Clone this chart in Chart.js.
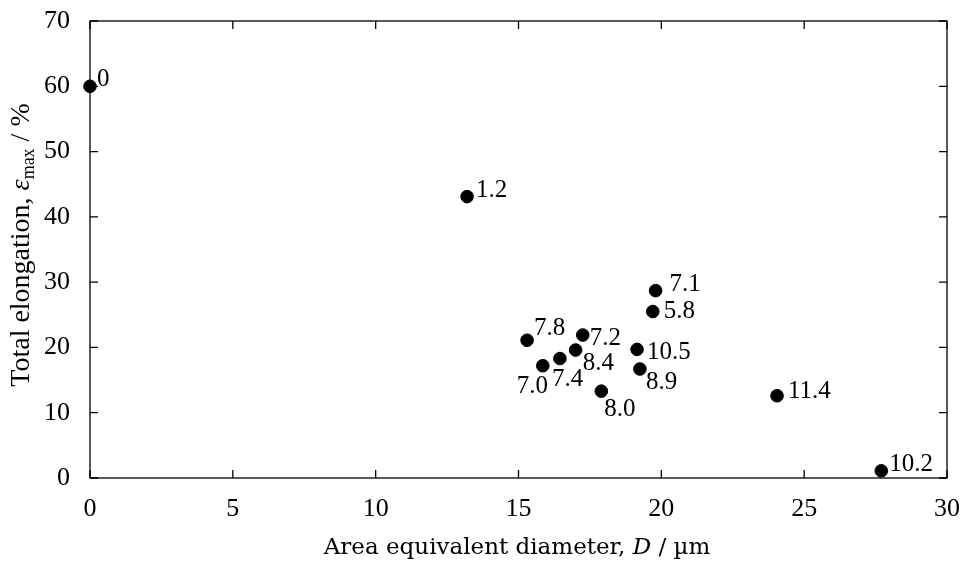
<!DOCTYPE html>
<html>
<head>
<meta charset="utf-8">
<script src="https://cdn.jsdelivr.net/npm/chart.js@4.4.1/dist/chart.umd.min.js"></script>
<style>
html,body{margin:0;padding:0;background:#fff;}
#wrap{width:965px;height:565px;position:relative;}
</style>
</head>
<body>
<div id="wrap"><canvas id="c" width="965" height="565"></canvas></div>
<script>
// ---- data ----
const diameters   = [0, 13.2, 19.8, 19.7, 15.3, 17.25, 17.0, 16.45, 15.85, 19.15, 19.25, 17.9, 24.05, 27.7];
const elongations = [60, 43.1, 28.7, 25.5, 21.1, 21.9, 19.6, 18.3, 17.2, 19.7, 16.7, 13.3, 12.6, 1.1];
const pointLabels = ["0","1.2","7.1","5.8","7.8","7.2","8.4","7.4","7.0","10.5","8.9","8.0","11.4","10.2"];
const xTicks = [0, 5, 10, 15, 20, 25, 30];
const yTicks = [0, 10, 20, 30, 40, 50, 60, 70];

// label placement (text left / middle relative to the point, px)
const labelOffsets = [[7,-7],[9,-6],[14,-6],[11,0],[7,-12],[7,3],[7,13],[-8,21],[-26,21],[10,3],[6,13],[3,18],[11,-4],[8,-6]];

const FONT = "'Liberation Serif','Times New Roman',serif";
const FS = 26;

const points = diameters.map((d, i) => ({x: d, y: elongations[i]}));

const framePlugin = {
  id: 'frame',
  afterDatasetsDraw(chart) {
    const {ctx, chartArea: a, scales: {x, y}} = chart;
    ctx.save();
    ctx.strokeStyle = '#000';
    ctx.lineWidth = 1.3;
    ctx.strokeRect(a.left, a.top, a.right - a.left, a.bottom - a.top);
    const tl = 8;
    ctx.beginPath();
    xTicks.forEach(v => {
      const px = x.getPixelForValue(v);
      ctx.moveTo(px, a.bottom); ctx.lineTo(px, a.bottom - tl);
      ctx.moveTo(px, a.top); ctx.lineTo(px, a.top + tl);
    });
    yTicks.forEach(v => {
      const py = y.getPixelForValue(v);
      ctx.moveTo(a.left, py); ctx.lineTo(a.left + tl, py);
      ctx.moveTo(a.right, py); ctx.lineTo(a.right - tl, py);
    });
    ctx.stroke();

    // point labels
    ctx.fillStyle = '#000';
    ctx.font = '25px ' + FONT;
    ctx.textBaseline = 'middle';
    ctx.textAlign = 'left';
    const meta = chart.getDatasetMeta(0);
    meta.data.forEach((el, i) => {
      const [dx, dy] = labelOffsets[i];
      ctx.fillText(pointLabels[i], el.x + dx, el.y + dy);
    });

    // x axis title
    const XF = "'DejaVu Serif',serif";
    const parts = [
      {t: 'Area equivalent diameter, ', f: '23px ' + XF},
      {t: 'D', f: 'italic 23px ' + XF},
      {t: ' / \u00b5m', f: '23px ' + XF}
    ];
    let total = 0;
    parts.forEach(p => { ctx.font = p.f; p.w = ctx.measureText(p.t).width; total += p.w; });
    let cx = 517 - total / 2;
    ctx.textBaseline = 'middle';
    parts.forEach(p => { ctx.font = p.f; ctx.fillText(p.t, cx, 548); cx += p.w; });

    // y axis title (rotated)
    ctx.translate(22, 245);
    ctx.rotate(-Math.PI / 2);
    const yp = [
      {t: 'Total elongation, ', f: '28px ' + FONT, dy: 0},
      {t: '\u03b5', f: 'italic 28px ' + FONT, dy: 0},
      {t: 'max', f: '18px ' + FONT, dy: 7},
      {t: ' / %', f: '28px ' + FONT, dy: 0}
    ];
    total = 0;
    yp.forEach(p => { ctx.font = p.f; p.w = ctx.measureText(p.t).width; total += p.w; });
    cx = -total / 2;
    yp.forEach(p => { ctx.font = p.f; ctx.fillText(p.t, cx, p.dy); cx += p.w; });
    ctx.restore();
  }
};

new Chart(document.getElementById('c'), {
  type: 'scatter',
  data: {
    datasets: [{
      data: points,
      backgroundColor: '#000',
      borderColor: '#000',
      pointRadius: 6.3,
      pointHoverRadius: 6.3,
      clip: false
    }]
  },
  options: {
    responsive: false,
    animation: false,
    events: [],
    layout: {padding: {top: 21, right: 18, left: 0, bottom: 0}},
    plugins: {legend: {display: false}, tooltip: {enabled: false}},
    scales: {
      x: {
        type: 'linear', min: 0, max: 30,
        afterBuildTicks(s) { s.ticks = xTicks.map(v => ({value: v})); },
        afterFit(s) { s.height = 565 - 478; s.paddingLeft = 0; s.paddingRight = 0; },
        grid: {display: false, drawTicks: false},
        border: {display: false},
        ticks: {color: '#000', font: {family: FONT, size: FS}, padding: 16, maxRotation: 0}
      },
      y: {
        type: 'linear', min: 0, max: 70,
        afterBuildTicks(s) { s.ticks = yTicks.map(v => ({value: v})); },
        afterFit(s) { s.width = 90; s.paddingTop = 0; s.paddingBottom = 0; },
        grid: {display: false, drawTicks: false},
        border: {display: false},
        ticks: {color: '#000', font: {family: FONT, size: FS}, padding: 20}
      }
    }
  },
  plugins: [framePlugin]
});
</script>
</body>
</html>
